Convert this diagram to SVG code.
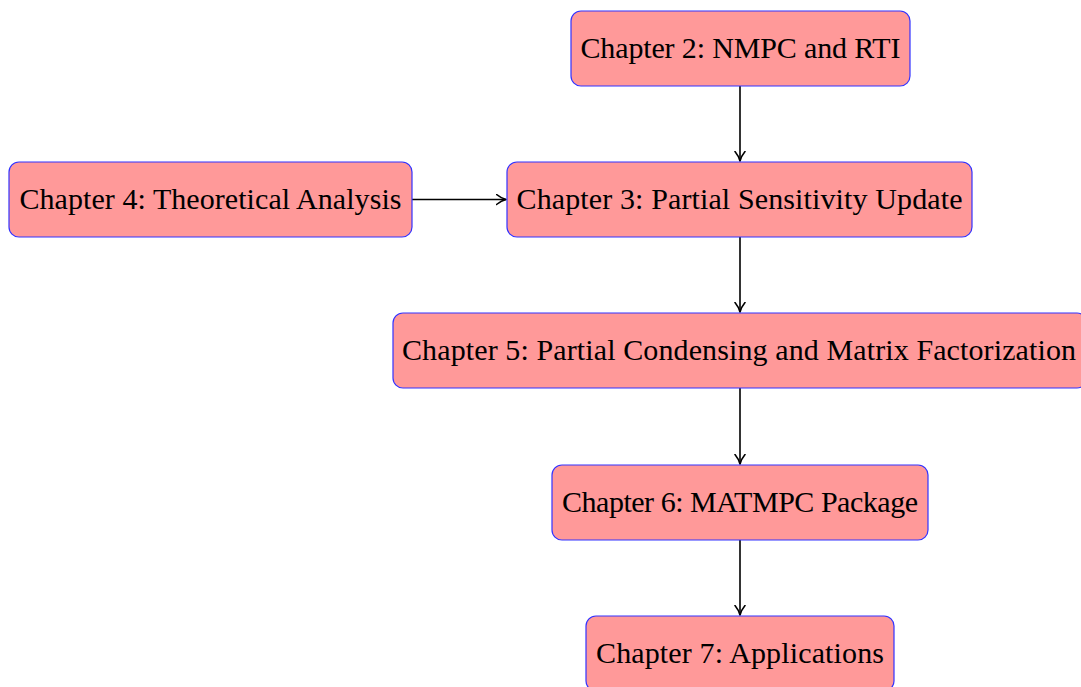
<svg xmlns="http://www.w3.org/2000/svg" width="1081" height="687" viewBox="0 0 1081 687">
<style>
.box{fill:#ff9999;stroke:#3333ff;stroke-width:1.2}
.lbl{font-family:"Liberation Serif",serif;font-size:30px;fill:#000;text-anchor:middle}
.edge{stroke:#000;stroke-width:1.6;fill:none;marker-end:url(#ah)}
</style>
<defs>
<marker id="ah" viewBox="0 0 12 12" refX="10.5" refY="6" markerWidth="12" markerHeight="12" markerUnits="userSpaceOnUse" orient="auto">
<path d="M1,1 Q6,5 10.5,6 Q6,7 1,11" fill="none" stroke="#000" stroke-width="1.6" stroke-linecap="round" stroke-linejoin="round"/>
</marker>
</defs>
<g id="connectors">
<line class="edge" x1="740" y1="86" x2="740" y2="161"/>
<line class="edge" x1="412" y1="199.5" x2="506" y2="199.5"/>
<line class="edge" x1="740" y1="237" x2="740" y2="312"/>
<line class="edge" x1="740" y1="388" x2="740" y2="464"/>
<line class="edge" x1="740" y1="540" x2="740" y2="615"/>
</g>
<g id="ch2">
<rect class="box" x="571" y="11" width="339" height="75" rx="10"/>
<text class="lbl" x="740.5" y="58" textLength="320" lengthAdjust="spacing">Chapter 2: NMPC and RTI</text>
</g>
<g id="ch4">
<rect class="box" x="9" y="162" width="403" height="75" rx="10"/>
<text class="lbl" x="210.5" y="209" textLength="382" lengthAdjust="spacing">Chapter 4: Theoretical Analysis</text>
</g>
<g id="ch3">
<rect class="box" x="507" y="162" width="465" height="75" rx="10"/>
<text class="lbl" x="739.5" y="209" textLength="446" lengthAdjust="spacing">Chapter 3: Partial Sensitivity Update</text>
</g>
<g id="ch5">
<rect class="box" x="393" y="313" width="694" height="75" rx="10"/>
<text class="lbl" x="739" y="360" textLength="674" lengthAdjust="spacing">Chapter 5: Partial Condensing and Matrix Factorization</text>
</g>
<g id="ch6">
<rect class="box" x="552" y="465" width="376" height="75" rx="10"/>
<text class="lbl" x="740" y="512" textLength="356" lengthAdjust="spacing">Chapter 6: MATMPC Package</text>
</g>
<g id="ch7">
<rect class="box" x="586" y="616" width="308" height="75" rx="10"/>
<text class="lbl" x="740" y="663" textLength="288" lengthAdjust="spacing">Chapter 7: Applications</text>
</g>
</svg>
